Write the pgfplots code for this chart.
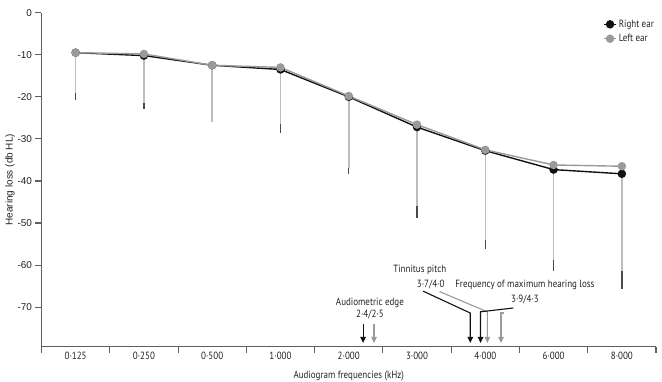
\documentclass[border=0pt]{standalone}
\usepackage{fontspec}
\setmainfont{PT Sans}[FakeStretch=0.86]
\newfontfamily\arialfont{Liberation Sans}
\usepackage{pgfplots}
\pgfplotsset{compat=1.18}
\usetikzlibrary{arrows.meta}
\definecolor{rightc}{HTML}{111111}
\definecolor{leftc}{HTML}{9A9A9A}
\definecolor{rbar}{HTML}{4A4A4A}
\definecolor{lbar}{HTML}{BDBDBD}
\definecolor{axc}{HTML}{5E5E5E}
\definecolor{txt}{HTML}{222222}
\begin{document}
\begin{tikzpicture}[font=\fontsize{10.5}{12.6}\selectfont]
\begin{axis}[
  scale only axis, width=614.5bp, height=334bp,
  xmin=-0.5, xmax=8.5, ymin=-79.4, ymax=0,
  clip=false,
  axis x line*=bottom, axis y line*=left,
  axis line style={axc, line width=1.3bp},
  every tick/.style={axc, line width=1.1bp},
  tick align=outside,
  major tick length=6bp,
  xtick={-0.5,0.5,1.5,2.5,3.5,4.5,5.5,6.5,7.5,8.5},
  xticklabels={},
  extra x ticks={0,1,2,3,4,5,6,7,8},
  extra x tick labels={0·125,0·250,0·500,1·000,2·000,3·000,4·000,6·000,8·000},
  extra x tick style={major tick length=0pt},
  ytick={-70,-60,-50,-40,-30,-20,-10,0},
  yticklabels={-70,-60,-50,-40,-30,-20,-10,0},
  yticklabel style={font=\arialfont\fontsize{10}{12}\selectfont, text=txt},
  xticklabel style={text=txt, yshift=-2bp},
  xlabel={Audiogram frequencies (kHz)},
  xlabel style={text=txt, yshift=2bp},
  ylabel={Hearing loss (db HL)},
  ylabel style={font=\arialfont\fontsize{10}{12}\selectfont, text=txt, yshift=-4bp},
  legend style={at={(rel axis cs:1,0.985)}, anchor=north east, draw=none, fill=none,
    font=\fontsize{10.5}{12.6}\selectfont, text=txt, inner sep=0pt, row sep=1.5bp},
  legend cell align=left,
  legend image code/.code={\draw[mark repeat=2,mark phase=2] plot coordinates {(0bp,0bp)(6bp,0bp)(12bp,0bp)};},
]
\addplot[rightc, line width=1.4bp, mark=*, mark size=3.5bp, mark options={fill=rightc, draw=rightc},
  error bars/.cd, y dir=minus, y explicit, error mark=none,
  error bar style={rbar, line width=1.3bp}]
  coordinates {
  (0,-9.5)  -= (0,11.3)
  (1,-10.2) -= (0,12.6)
  (2,-12.5) -= (0,13.3)
  (3,-13.5) -= (0,15.1)
  (4,-20.0) -= (0,18.3)
  (5,-27.2) -= (0,21.6)
  (6,-32.8) -= (0,23.4)
  (7,-37.3) -= (0,24.1)
  (8,-38.3) -= (0,27.4)
  };
\addplot[leftc, line width=1.4bp, mark=*, mark size=3.5bp, mark options={fill=leftc, draw=leftc},
  error bars/.cd, y dir=minus, y explicit, error mark=none,
  error bar style={lbar, line width=1.5bp}]
  coordinates {
  (0,-9.5)  -= (0,9.7)
  (1,-9.8)  -= (0,11.6)
  (2,-12.5) -= (0,13.5)
  (3,-13.0) -= (0,13.4)
  (4,-19.8) -= (0,17.2)
  (5,-26.6) -= (0,19.4)
  (6,-32.6) -= (0,21.4)
  (7,-36.2) -= (0,22.5)
  (8,-36.5) -= (0,25.0)
  };
\legend{Right ear, Left ear}
% annotations
\draw[rightc, line width=1.1bp, -{Triangle[length=6bp,width=5.5bp]}] (axis cs:4.21,-74.1) -- (axis cs:4.21,-78.5);
\draw[leftc, line width=1.1bp, -{Triangle[length=6bp,width=5.5bp]}] (axis cs:4.37,-74.1) -- (axis cs:4.37,-78.5);
\draw[rightc, line width=1.1bp, -{Triangle[length=6bp,width=5.5bp]}] (axis cs:5.09,-66.2) -- (axis cs:5.78,-71.4) -- (axis cs:5.78,-78.5);
\draw[leftc, line width=1.1bp, -{Triangle[length=6bp,width=5.5bp]}] (axis cs:5.33,-66.3) -- (axis cs:6.03,-71.1) -- (axis cs:6.03,-78.5);
\draw[rightc, line width=1.1bp, -{Triangle[length=6bp,width=5.5bp]}] (axis cs:6.41,-70.2) -- (axis cs:5.93,-71.1) -- (axis cs:5.93,-78.5);
\draw[leftc, line width=1.1bp, -{Triangle[length=6bp,width=5.5bp]}] (axis cs:6.28,-71.4) -- (axis cs:6.23,-71.4) -- (axis cs:6.23,-78.5);
\node[text=txt] at (axis cs:5.04,-61.2) {Tinnitus pitch};
\node[text=txt] at (axis cs:5.20,-64.7) {3·7/4·0};
\node[text=txt] at (axis cs:6.58,-64.7) {Frequency of maximum hearing loss};
\node[text=txt] at (axis cs:6.58,-68.3) {3·9/4·3};
\node[text=txt] at (axis cs:4.31,-69.0) {Audiometric edge};
\node[text=txt] at (axis cs:4.31,-71.7) {2·4/2·5};
\end{axis}
\pgfresetboundingbox
\path ([shift={(-41.5bp,-35.3bp)}]current axis.south west) rectangle ([shift={(620.5bp,346.7bp)}]current axis.south west);
\end{tikzpicture}
\end{document}
